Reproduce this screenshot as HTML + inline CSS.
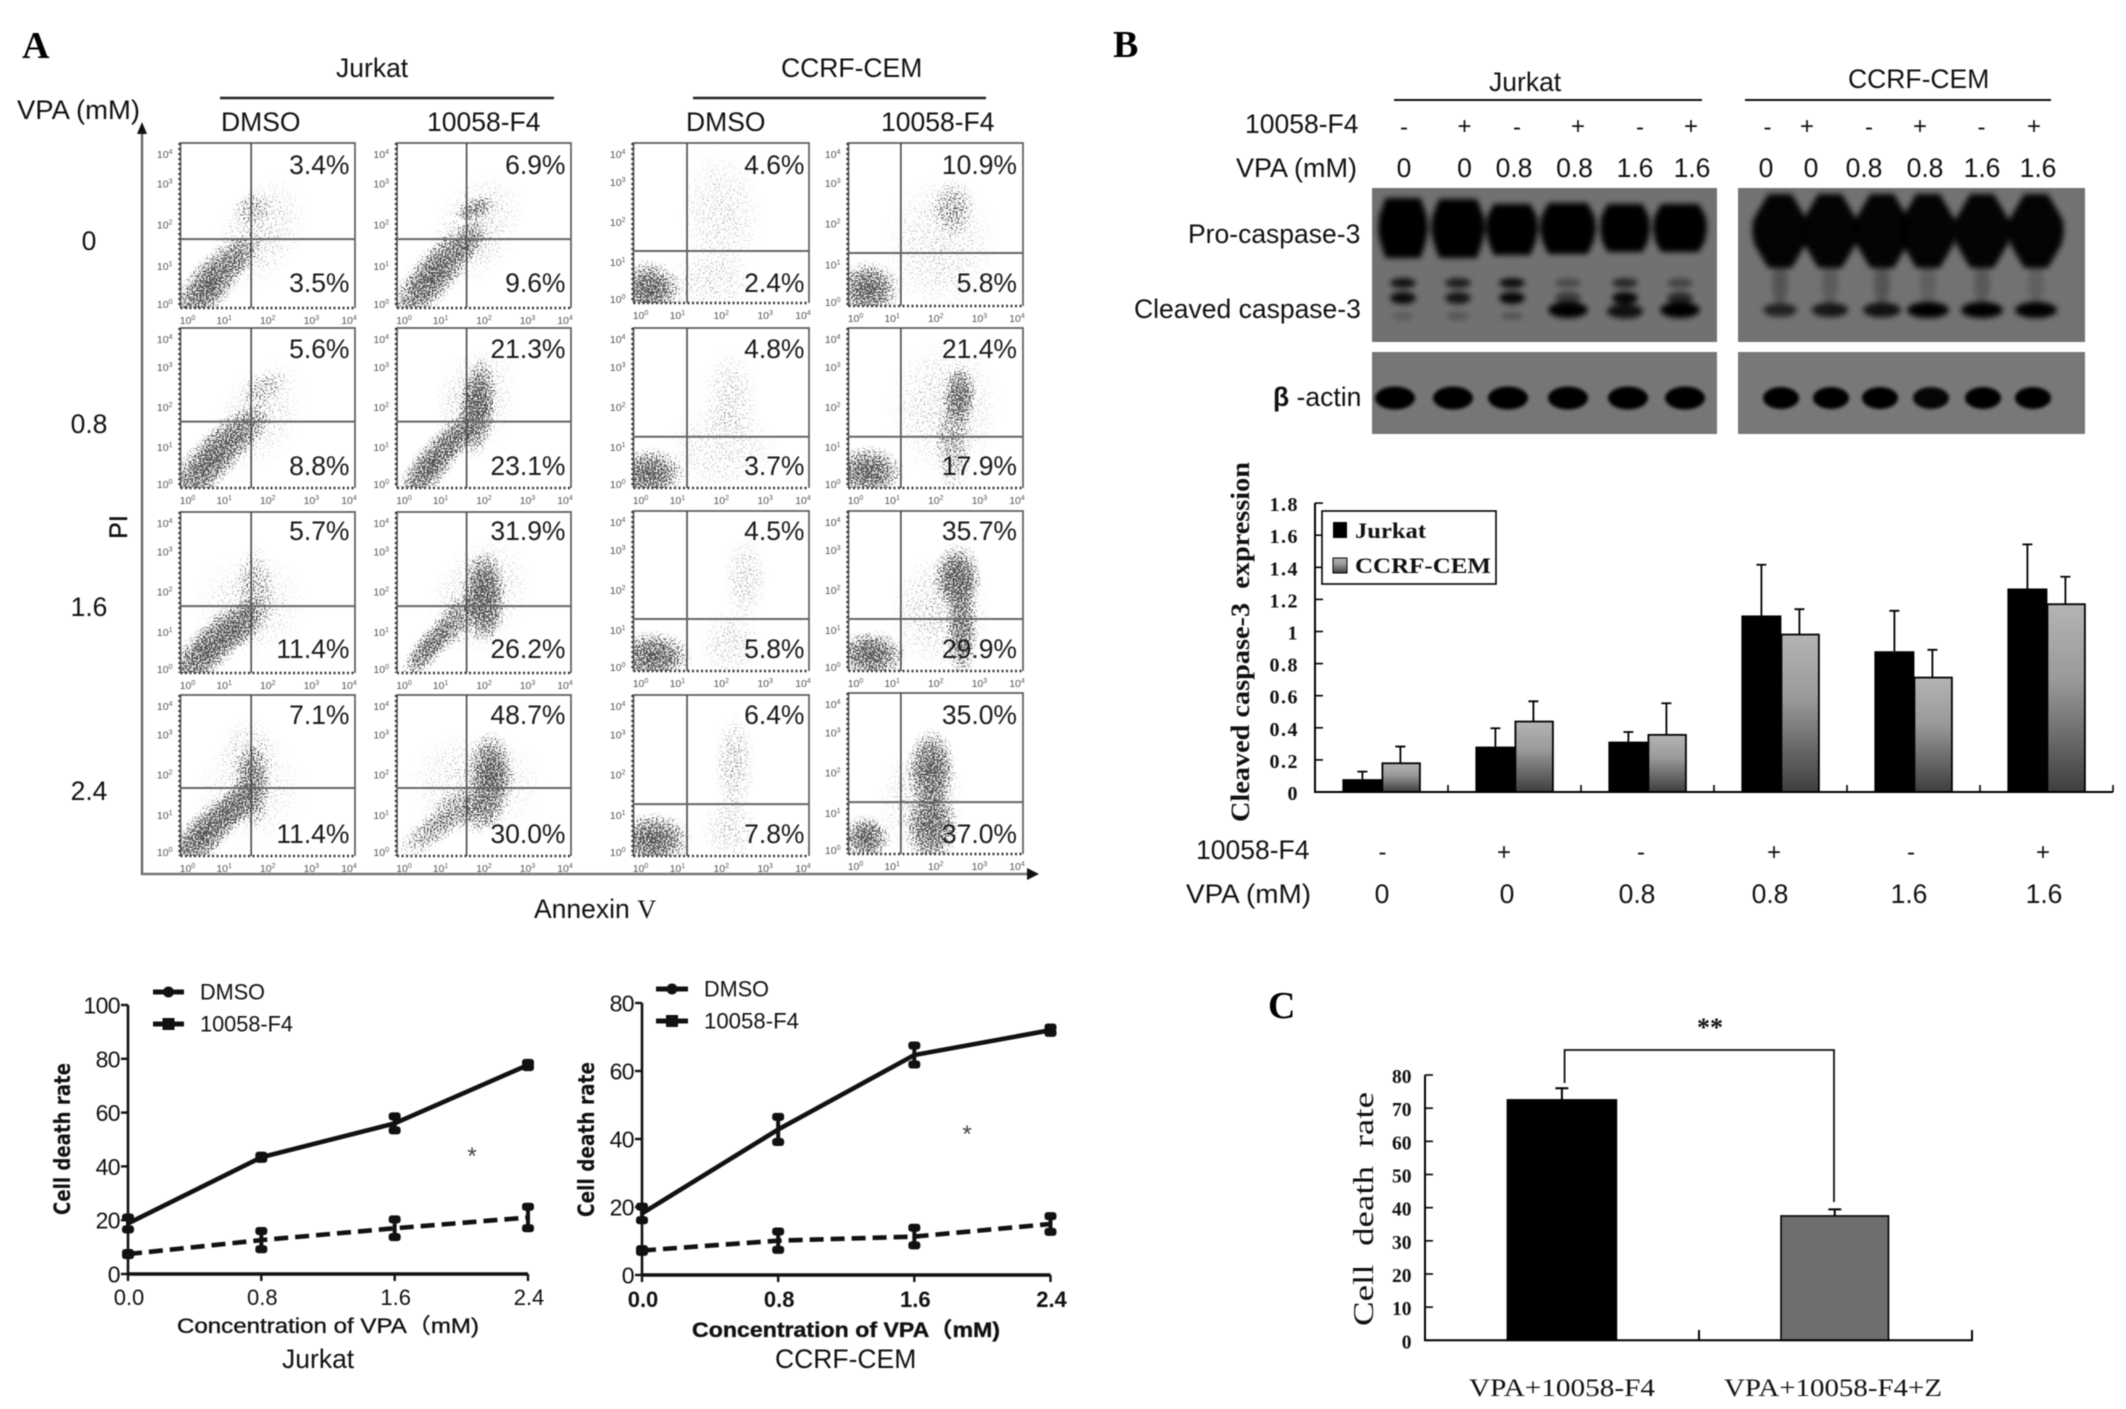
<!DOCTYPE html>
<html lang="en">
<head>
<meta charset="utf-8">
<title>Flow cytometry, western blot and cell death figure</title>
<style>
html,body{margin:0;padding:0;background:#fff;width:2126px;height:1409px;overflow:hidden}
svg{display:block;filter:blur(0.45px)}
text{fill:#111;font-family:"Liberation Sans","Noto Sans CJK SC",sans-serif}
.lab{font-size:26.5px}
.panel{font-family:"Liberation Serif",serif;font-weight:bold;font-size:38px;fill:#000}
.ser{font-family:"Liberation Serif","Noto Serif CJK SC",serif;font-weight:bold;fill:#111}
</style>
</head>
<body>
<svg id="figure" xmlns="http://www.w3.org/2000/svg" width="2126" height="1409" viewBox="0 0 2126 1409">
<defs>
<radialGradient id="cloud"><stop offset="0" stop-color="#000" stop-opacity="1"/><stop offset=".5" stop-color="#000" stop-opacity=".72"/><stop offset="1" stop-color="#000" stop-opacity="0"/></radialGradient>
<filter id="speckle" x="0" y="0" width="100%" height="100%" color-interpolation-filters="sRGB">
<feTurbulence type="fractalNoise" baseFrequency="0.62" numOctaves="2" seed="4" result="n"/>
<feColorMatrix in="n" type="matrix" values="0 0 0 0 0 0 0 0 0 0 0 0 0 0 0 0 0 0 3.2 -1.1" result="m"/>
<feComposite in="SourceGraphic" in2="m" operator="arithmetic" k1="0" k2="2.4" k3="2.4" k4="-2.4" result="dots"/>
<feColorMatrix in="dots" type="matrix" values="0 0 0 0 .1 0 0 0 0 .1 0 0 0 0 .1 0 0 0 .78 0"/>
</filter>
<filter id="blot" x="-10%" y="-10%" width="120%" height="120%"><feGaussianBlur stdDeviation="3"/></filter>
<filter id="actinBlot" x="-10%" y="-10%" width="120%" height="120%"><feGaussianBlur stdDeviation="1.7"/></filter>
<linearGradient id="grayBar" x1="0" y1="0" x2="0" y2="1"><stop offset="0" stop-color="#b4b4b4"/><stop offset=".4" stop-color="#9a9a9a"/><stop offset="1" stop-color="#3e3e3e"/></linearGradient>
<clipPath id="blotClipA"><rect x="1372" y="188" width="345" height="154"/></clipPath>
<clipPath id="blotClipB"><rect x="1738" y="188" width="347" height="154"/></clipPath>
</defs>

<text class="panel" x="22" y="58">A</text>
<text class="panel" x="1113" y="57">B</text>
<text class="panel" x="1268" y="1018">C</text>

<g>
<text class="lab" x="336" y="77">Jurkat</text>
<line x1="220" x2="554" y1="98" y2="98" stroke="#222" stroke-width="2.4"/>
<text class="lab" x="781" y="77">CCRF-CEM</text>
<line x1="693" x2="986" y1="98" y2="98" stroke="#222" stroke-width="2.4"/>
<text class="lab" x="17" y="119" textLength="123" lengthAdjust="spacingAndGlyphs">VPA (mM)</text>
<text class="lab" x="221" y="131">DMSO</text>
<text class="lab" x="427" y="131">10058-F4</text>
<text class="lab" x="686" y="131">DMSO</text>
<text class="lab" x="881" y="131">10058-F4</text>
<text class="lab" x="89" y="250" text-anchor="middle">0</text>
<text class="lab" x="89" y="433" text-anchor="middle">0.8</text>
<text class="lab" x="89" y="616" text-anchor="middle">1.6</text>
<text class="lab" x="89" y="800" text-anchor="middle">2.4</text>
<text transform="translate(127,527) rotate(-90)" text-anchor="middle" style="font-size:25px;stroke:#111;stroke-width:.4">PI</text>
<line x1="142" x2="142" y1="130" y2="875" stroke="#666" stroke-width="2.4"/>
<polygon points="142,122 137,134 147,134" fill="#111"/>
<line x1="142" x2="1028" y1="874" y2="874" stroke="#777" stroke-width="2.6"/>
<polygon points="1039,874 1027,868 1027,880" fill="#111"/>
<text class="lab" x="534" y="918">Annexin <tspan style="font-family:'Liberation Serif',serif">V</tspan></text>
</g>
<g id="flowLayer"></g>

<g id="blotLayer">
<text class="lab" x="1489" y="91">Jurkat</text>
<line x1="1394" x2="1702" y1="100" y2="100" stroke="#111" stroke-width="2"/>
<text class="lab" x="1848" y="88">CCRF-CEM</text>
<line x1="1745" x2="2051" y1="100" y2="100" stroke="#111" stroke-width="2"/>
<text class="lab" x="1245" y="133">10058-F4</text>
<text class="lab" x="1236" y="177" textLength="121" lengthAdjust="spacingAndGlyphs">VPA (mM)</text>
<text class="lab" x="1188" y="243">Pro-caspase-3</text>
<text class="lab" x="1134" y="318">Cleaved caspase-3</text>
<text class="lab" x="1273" y="406"><tspan font-weight="bold">β</tspan> -actin</text>
</g>

<g id="barLayer">
<text class="ser" transform="translate(1249,822) rotate(-90)" font-size="26" textLength="360" lengthAdjust="spacingAndGlyphs" xml:space="preserve">Cleaved caspase-3  expression</text>
<text class="lab" x="1196" y="859">10058-F4</text>
<text class="lab" x="1186" y="903" textLength="125" lengthAdjust="spacingAndGlyphs">VPA (mM)</text>
</g>
<g id="lineLayer"></g>
<g id="cLayer">
<text class="ser" transform="translate(1373,1326) rotate(-90)" font-size="29" style="font-weight:normal" textLength="234" lengthAdjust="spacingAndGlyphs" xml:space="preserve">Cell  death  rate</text>
<text class="ser" x="1710" y="1036" font-size="26" text-anchor="middle">**</text>
</g>

<script>
/* ---------- flow cytometry data (log decades, 0-4) ---------- */
const upperPercents = [
 ['3.4%','6.9%','4.6%','10.9%'],['5.6%','21.3%','4.8%','21.4%'],
 ['5.7%','31.9%','4.5%','35.7%'],['7.1%','48.7%','6.4%','35.0%']];
const lowerPercents = [
 ['3.5%','9.6%','2.4%','5.8%'],['8.8%','23.1%','3.7%','17.9%'],
 ['11.4%','26.2%','5.8%','29.9%'],['11.4%','30.0%','7.8%','37.0%']];
const gateXDecades = [1.62,1.6,1.22,1.2];
const gateYDecades = [[1.67,1.67,1.30,1.30],[1.66,1.66,1.28,1.28],[1.66,1.66,1.30,1.30],[1.69,1.69,1.29,1.29]];
/* each cloud: x, y, long radius, short radius, angle, density */
const flowClouds = [
 [ [[.65,.55,.92,.4,52,1],[1.4,1.3,.42,.26,55,.6],[1.65,2.4,.32,.3,0,.38],[1.8,1.8,1,.7,60,.24]],
   [[.8,.75,1.05,.4,50,1],[1.65,1.6,.42,.26,55,.65],[1.8,2.4,.33,.2,20,.7],[1.8,1.9,1,.7,60,.24]],
   [[.35,.33,.52,.52,0,1],[2,2.2,.65,1.15,0,.2],[1.7,.5,.8,.5,0,.2]],
   [[.45,.4,.52,.5,0,1],[2.4,2.4,.35,.5,0,.5],[2.1,1.5,.9,1.2,0,.2]] ],
 [ [[.7,.7,1.1,.42,48,1],[1.55,1.5,.5,.32,50,.5],[1.9,2.5,.42,.28,30,.36],[1.8,1.8,1,.7,60,.2]],
   [[.8,.6,.9,.34,52,1],[1.4,1.3,.45,.3,55,.65],[1.85,2,.8,.33,85,1],[1.8,2.2,.9,.7,70,.25]],
   [[.35,.35,.58,.46,0,1],[2.2,2.3,.45,.8,0,.24],[2,1,.9,.8,0,.18]],
   [[.45,.4,.58,.46,0,1],[2.55,2.3,.28,.55,0,.9],[2.4,1.1,.3,.9,0,.5],[2.2,2,.9,1.2,0,.22]] ],
 [ [[.65,.6,1,.4,45,1],[1.4,1.2,.5,.33,50,.75],[1.7,2,.33,.85,0,.38],[1.6,1.7,.9,.9,0,.2]],
   [[.7,.6,.62,.26,52,.9],[1.3,1.25,.6,.3,55,.7],[2,2.05,.35,.7,0,1],[2,1.4,.33,.48,0,.7],[1.9,1.9,1,.8,60,.25]],
   [[.45,.35,.62,.46,0,1],[2.55,2.3,.35,.75,0,.26],[2.2,.7,.5,.6,0,.22]],
   [[.5,.4,.58,.44,0,1],[2.5,2.35,.4,.6,0,1],[2.6,1.1,.26,1,0,.85],[2.1,1.5,.8,1,0,.26]] ],
 [ [[.55,.55,.92,.38,45,1],[1.25,1.25,.5,.3,48,.85],[1.65,1.75,.3,.75,0,.8],[1.6,2.6,.5,.6,0,.24],[1.6,1.6,.9,.9,0,.18]],
   [[.7,.55,.55,.28,35,.55],[1.3,1.1,.6,.35,40,.55],[2.15,2,.38,.78,0,1],[1.9,1.1,.38,.38,0,.65],[1.8,1.8,1.1,.9,0,.22]],
   [[.45,.4,.62,.48,0,1],[2.3,2.3,.33,.85,0,.34],[2.2,.7,.45,.6,0,.24]],
   [[.4,.4,.4,.4,0,1],[1.9,2.1,.4,.72,0,1],[1.9,.7,.42,.72,0,.95],[1.7,1.3,.7,1,0,.26]] ]
];
const flowDecades = ['0','1','2','3','4'];

/* ---------- western blot band densities ---------- */
const jurkatProBand = [1,1,1,1,1,1];
const ccrfProBand = [.97,.97,.97,.97,.97,.97];
const jurkatCleavedUpper = [.85,.75,.9,.35,.65,.4];
const jurkatCleavedMiddle = [.9,.8,.95,.5,.95,.65];
const jurkatCleavedLower = [.2,.25,.25,1,.85,1];
const ccrfCleavedSmear = [.26,.2,.26,.16,.22,.16];
const ccrfCleavedLower = [.7,.8,.85,1,1,1];
const jurkatActin = [1,1,1,1,1,1];
const ccrfActin = [1,1,1,.95,1,1];
const blotSignsF4 = ['-','+','-','+','-','+'];
const blotVpa = ['0','0','0.8','0.8','1.6','1.6'];

/* ---------- cleaved caspase bar chart ---------- */
const caspaseTicks = ['0','0.2','0.4','0.6','0.8','1','1.2','1.4','1.6','1.8'];
const caspaseTickValues = [0,.2,.4,.6,.8,1,1.2,1.4,1.6,1.8];
const caspaseJurkat = [.08,.283,.314,1.10,.877,1.268];
const caspaseJurkatErr = [.047,.114,.06,.316,.252,.275];
const caspaseCcrf = [.179,.439,.356,.981,.713,1.17];
const caspaseCcrfErr = [.104,.126,.197,.158,.173,.171];
const caspaseF4 = ['-','+','-','+','-','+'];
const caspaseVpa = ['0','0','0.8','0.8','1.6','1.6'];

/* ---------- cell death line charts ---------- */
const doseLabels = ['0.0','0.8','1.6','2.4'];
const doses = [0,.8,1.6,2.4];
const jurkatTicks = [0,20,40,60,80,100];
const ccrfTicks = [0,20,40,60,80];
const jurkatDmso = [7.4,12.6,17,21];
const jurkatDmsoErr = [.4,3.4,3.3,4];
const jurkatF4 = [18.8,43.4,56,77.7];
const jurkatF4Err = [2.2,.6,2.6,.8];
const ccrfDmso = [7.2,10.1,11.3,15];
const ccrfDmsoErr = [.4,2.7,2.6,2.3];
const ccrfF4 = [18.1,42.8,64.7,72];
const ccrfF4Err = [2,3.7,2.8,.8];

/* ---------- panel C ---------- */
const deathTicks = [0,10,20,30,40,50,60,70,80];
const deathGroups = ['VPA+10058-F4','VPA+10058-F4+Z'];
const deathValues = [72.5,37.5];
const deathErrors = [3.5,2];

const NS = 'http://www.w3.org/2000/svg';
function make(tag, attrs, parent, text) {
  const e = document.createElementNS(NS, tag);
  for (const k in attrs) e.setAttribute(k, attrs[k]);
  if (text !== undefined) e.textContent = text;
  parent.appendChild(e);
  return e;
}

/* ---------- draw flow panels ---------- */
const colLeft = [180.5,397,633.5,848.5];
const colRight = [355,571,809,1023];
const rowTop = [[143,143,143,143],[328,328,328,328],[512,512,511,511],[695,695,695,693]];
const rowBottom = [[308,308,303,306],[488,488,488,488],[673,673,671,671],[856,856,856,854]];
const pctRight = [349.5,565.5,804.5,1017];
const upperBase = [174,358,540,724];
const lowerBase = [292,475,658,843];
const flowLayer = document.getElementById('flowLayer');
function drawFlowPanel(r, c) {
  const L = colLeft[c], R = colRight[c], T = rowTop[r][c], B = rowBottom[r][c];
  const fx = d => L + d / 4 * (R - L);
  const fy = d => B - d / 4 * (B - T);
  const g = make('g', {}, flowLayer);
  
  
  const clipId = 'flowClip' + r + c;
  const cp = make('clipPath', {id: clipId}, g);
  make('rect', {x: L, y: T, width: R - L, height: B - T}, cp);
  const holder = make('g', {'clip-path': 'url(#' + clipId + ')'}, g);
  const dots = make('g', {filter: 'url(#speckle)'}, holder);
  
  
  flowClouds[r][c].forEach(function (cl) {
    const sx = (R - L) / 4, sy = (B - T) / 4;
    const cloud = make('ellipse', {cx: fx(cl[0]), cy: fy(cl[1]), rx: cl[2] * sx * 1.5, ry: cl[3] * sy * 1.5,
      transform: 'rotate(' + (-cl[4]) + ' ' + fx(cl[0]) + ' ' + fy(cl[1]) + ')', fill: 'url(#cloud)', opacity: cl[5]}, dots);
    
    
  });
  const frame = make('path', {d: 'M' + L + ' ' + B + 'V' + T + 'H' + R + 'V' + B, fill: 'none', stroke: '#5c5c5c', 'stroke-width': 1.7}, g);
  
  
  const base = make('line', {x1: L, x2: R, y1: B, y2: B, stroke: '#333', 'stroke-width': 2.4, 'stroke-dasharray': '2 2.5'}, g);
  
  
  const leftAxis = make('line', {x1: L - 1, x2: L - 1, y1: T, y2: B, stroke: '#333', 'stroke-width': 2.4, 'stroke-dasharray': '2 3'}, g);
  
  
  const gv = make('line', {x1: fx(gateXDecades[c]), x2: fx(gateXDecades[c]), y1: T, y2: B, stroke: '#484848', 'stroke-width': 1.6}, g);
  
  
  const gh = make('line', {x1: L, x2: R, y1: fy(gateYDecades[r][c]), y2: fy(gateYDecades[r][c]), stroke: '#666', 'stroke-width': 2}, g);
  
  
  flowDecades.forEach(function (d, i) {
    const px = fx(i) + (i === 0 ? 7 : i === 4 ? -6 : 0);
    const py = fy(i) + (i === 4 ? 12 : i === 0 ? -3 : 0);
    const tx = make('text', {x: px, y: B + 16, 'text-anchor': 'middle', style: 'font-size:10.5px;fill:#555'}, g, '10');
    
    
    make('tspan', {dy: -4, style: 'font-size:7px'}, tx, d);
    const ty = make('text', {x: L - 8, y: py + 3, 'text-anchor': 'end', style: 'font-size:10.5px;fill:#555'}, g, '10');
    
    
    make('tspan', {dy: -4, style: 'font-size:7px'}, ty, d);
  });
  const up = make('text', {class: 'lab', x: pctRight[c], y: upperBase[r], 'text-anchor': 'end', style: 'fill:#1a1a1a'}, g, upperPercents[r][c]);
  
  
  const lo = make('text', {class: 'lab', x: pctRight[c], y: lowerBase[r], 'text-anchor': 'end', style: 'fill:#1a1a1a'}, g, lowerPercents[r][c]);
  
  
}
for (let r = 0; r < 4; r++) for (let c = 0; c < 4; c++) drawFlowPanel(r, c);

/* ---------- draw blots ---------- */
const blotLayer = document.getElementById('blotLayer');
const signXLeft = [1404,1464.5,1517,1578,1640,1691];
const signXRight = [1767.5,1807,1869,1920,1981.5,2034];
const valXLeft = [1404,1464.5,1514,1574.5,1635,1692];
const valXRight = [1766,1811,1864,1925,1982,2038];
blotSignsF4.forEach(function (s, i) {
  [signXLeft, signXRight].forEach(function (xs) {
    const t = make('text', {class: 'lab', x: xs[i], y: s === '+' ? 134 : 135, 'text-anchor': 'middle', style: 'font-size:24px'}, blotLayer, s);
    
    
  });
});
blotVpa.forEach(function (s, i) {
  [valXLeft, valXRight].forEach(function (xs) {
    const t = make('text', {class: 'lab', x: xs[i], y: 177, 'text-anchor': 'middle'}, blotLayer, s);
    
    
  });
});
function membrane(x, y, w, h, fill, name) {
  const m = make('rect', {x: x, y: y, width: w, height: h, fill: fill}, blotLayer);
  
  
}
membrane(1372, 188, 345, 154, '#717171', 'jurkat-caspase-membrane');
membrane(1738, 188, 347, 154, '#727272', 'ccrf-caspase-membrane');
membrane(1372, 352, 345, 82, '#767676', 'jurkat-actin-membrane');
membrane(1738, 352, 347, 82, '#787878', 'ccrf-actin-membrane');
const laneCaspaseLeft = [1403,1458,1512,1568,1625,1680];
const laneCaspaseRight = [1780,1830,1882,1928,1982,2036];
const laneActinLeft = [1395,1453,1508,1568,1628,1685];
const laneActinRight = [1781,1831,1880,1931,1983,2033];
const laneHalfWidthLeft = [25,27,26,28,25,27];
const laneTopLeft = [198,199,204,203,204,204];
const laneBottomLeft = [258,258,255,254,252,252];
function bandHex(parent, cx, top, mid, bot, hw, ratio, o, name) {
  const p = make('polygon', {points: [[cx - hw * ratio, top],[cx + hw * ratio, top],[cx + hw * .96, mid - 12],[cx + hw, mid],[cx + hw * .92, mid + 12],[cx + hw * ratio, bot],[cx - hw * ratio, bot],[cx - hw * .92, mid + 12],[cx - hw, mid],[cx - hw * .96, mid - 12]].map(a => a.join(',')).join(' '), fill: '#050505', opacity: o}, parent);
  
  
}
function bandOval(parent, cx, cy, rx, ry, o, name) {
  const p = make('ellipse', {cx: cx, cy: cy, rx: rx, ry: ry, fill: '#050505', opacity: o}, parent);
  
  
}
const blotLeft = make('g', {filter: 'url(#blot)', 'clip-path': 'url(#blotClipA)'}, blotLayer);


const blotRight = make('g', {filter: 'url(#blot)', 'clip-path': 'url(#blotClipB)'}, blotLayer);


const actinBlur = make('g', {filter: 'url(#actinBlot)'}, blotLayer);


laneCaspaseLeft.forEach(function (x, i) {
  bandHex(blotLeft, x, laneTopLeft[i], 229, laneBottomLeft[i], laneHalfWidthLeft[i], .7, jurkatProBand[i], 'jurkat-pro-caspase-band');
  bandOval(blotLeft, x, 283, 13, 5, jurkatCleavedUpper[i], 'jurkat-cleaved-upper-band');
  bandOval(blotLeft, x, 298, 13, 6, jurkatCleavedMiddle[i], 'jurkat-cleaved-middle-band');
  const low = jurkatCleavedLower[i];
  bandOval(blotLeft, x, 318 - low * 8, 8 + low * 12, 3 + low * 5, low, 'jurkat-cleaved-lower-band');
});
laneCaspaseRight.forEach(function (x, i) {
  bandHex(blotRight, x, 194, 232, 268, 28, .42, ccrfProBand[i], 'ccrf-pro-caspase-band');
  bandOval(blotRight, x, 284, 8, 20, ccrfCleavedSmear[i], 'ccrf-cleaved-smear');
  const low = ccrfCleavedLower[i];
  bandOval(blotRight, x, 310, 7 + low * 14, 4 + low * 4, low, 'ccrf-cleaved-lower-band');
});
laneActinLeft.forEach(function (x, i) {
  bandOval(actinBlur, x, 398, 20, 11.5, jurkatActin[i], 'jurkat-actin-band');
});
laneActinRight.forEach(function (x, i) {
  bandOval(actinBlur, x, 398, 18, 11, ccrfActin[i], 'ccrf-actin-band');
});

/* ---------- draw caspase bars ---------- */
const barLayer = document.getElementById('barLayer');
const barY = v => 792 - v * 160.5;
const barGroupX = i => 1342.4 + 133 * i;
caspaseTicks.forEach(function (lab, i) {
  const y = barY(caspaseTickValues[i]);
  const tk = make('line', {x1: 1315, x2: 1323, y1: y, y2: y, stroke: '#000', 'stroke-width': 1.6}, barLayer);
  
  
  const t = make('text', {class: 'ser', x: 1299, y: y + 8, 'text-anchor': 'end', 'font-size': 20, 'letter-spacing': '1.5'}, barLayer, lab);
  
  
});
caspaseJurkat.forEach(function (v, i) {
  const x0 = barGroupX(i);
  const g = make('g', {}, barLayer);
  
  
  const e1 = make('path', {d: 'M' + (x0 + 20) + ' ' + barY(v) + 'V' + barY(v + caspaseJurkatErr[i]) + 'm-5 0h10', stroke: '#000', 'stroke-width': 1.8, fill: 'none'}, g);
  
  
  const g2 = caspaseCcrf[i];
  const e2 = make('path', {d: 'M' + (x0 + 58) + ' ' + barY(g2) + 'V' + barY(g2 + caspaseCcrfErr[i]) + 'm-5 0h10', stroke: '#000', 'stroke-width': 1.8, fill: 'none'}, g);
  
  
  const b2 = make('rect', {x: x0 + 40, y: barY(g2), width: 37.5, height: 792 - barY(g2), fill: 'url(#grayBar)', stroke: '#000', 'stroke-width': 1.8}, g);
  
  
  const b1 = make('rect', {x: x0, y: barY(v), width: 40, height: 792 - barY(v), fill: '#000'}, g);
  
  
  const tk = make('line', {x1: 1315 + 133 * (i + 1), x2: 1315 + 133 * (i + 1), y1: 785, y2: 792, stroke: '#000', 'stroke-width': 1.6}, barLayer);
  
  
});
const barAxis = make('path', {d: 'M1315 503V792H2113', fill: 'none', stroke: '#000', 'stroke-width': 2}, barLayer);


const legendBox = make('rect', {x: 1322, y: 511, width: 174, height: 73, fill: '#fff', stroke: '#000', 'stroke-width': 1.6}, barLayer);


const sw1 = make('rect', {x: 1333, y: 522, width: 14, height: 16, fill: '#000'}, barLayer);


const sw2 = make('rect', {x: 1333, y: 558, width: 14, height: 15, fill: 'url(#grayBar)', stroke: '#000', 'stroke-width': 1}, barLayer);


const lg1 = make('text', {class: 'ser', x: 1355, y: 538, 'font-size': 22, textLength: 71, lengthAdjust: 'spacingAndGlyphs'}, barLayer, 'Jurkat');


const lg2 = make('text', {class: 'ser', x: 1355, y: 573, 'font-size': 22, textLength: 136, lengthAdjust: 'spacingAndGlyphs'}, barLayer, 'CCRF-CEM');


const barSignX = [1382.5,1504,1641,1774,1911,2043];
const barValX = [1382,1507,1637,1770,1909,2044];
caspaseF4.forEach(function (s, i) {
  const t = make('text', {class: 'lab', x: barSignX[i], y: 860, 'text-anchor': 'middle', style: 'font-size:24px'}, barLayer, s);
  
  
});
caspaseVpa.forEach(function (s, i) {
  const t = make('text', {class: 'lab', x: barValX[i], y: 903, 'text-anchor': 'middle'}, barLayer, s);
  
  
});

/* ---------- draw line charts ---------- */
const lineLayer = document.getElementById('lineLayer');
function drawLineChart(o, ticks, dmso, dmsoErr, f4, f4Err) {
  const g = make('g', {}, lineLayer);
  
  
  const X = v => o.x0 + v / 2.4 * (o.x1 - o.x0);
  const Y = v => o.y0 - v * o.k;
  const axes = make('path', {d: 'M' + o.x0 + ' ' + Y(ticks[ticks.length - 1]) + 'V' + o.y0, fill: 'none', stroke: '#111', 'stroke-width': 2.6}, g);
  
  
  const ax2 = make('line', {x1: o.x0, x2: o.x1, y1: o.y0, y2: o.y0, stroke: '#111', 'stroke-width': 3.4}, g);
  
  
  ticks.forEach(function (v) {
    const tk = make('line', {x1: o.x0 - 7, x2: o.x0, y1: Y(v), y2: Y(v), stroke: '#111', 'stroke-width': 2.4}, g);
    
    
    const t = make('text', {x: o.x0 - 8, y: Y(v) + 8.5, 'text-anchor': 'end', style: 'font-size:23px', 'letter-spacing': '-.6'}, g, String(v));
    
    
  });
  doses.forEach(function (d, i) {
    const tk = make('line', {x1: X(d), x2: X(d), y1: o.y0, y2: o.y0 + 7, stroke: '#111', 'stroke-width': 2.4}, g);
    
    
    const t = make('text', {x: X(d) + 1, y: o.labY, 'text-anchor': 'middle', style: 'font-size:22px;font-weight:' + o.weight}, g, doseLabels[i]);
    
    
  });
  function series(vals, errs, dash, name) {
    const pts = doses.map((d, i) => X(d) + ',' + Y(vals[i])).join(' ');
    const l = make('polyline', {points: pts, fill: 'none', stroke: '#111', 'stroke-width': 4.6}, g);
    if (dash) l.setAttribute('stroke-dasharray', '14 7');
    
    
    doses.forEach(function (d, i) {
      const e = make('path', {d: 'M' + X(d) + ' ' + Y(vals[i] - errs[i]) + 'V' + Y(vals[i] + errs[i]), stroke: '#111', 'stroke-width': 4, fill: 'none'}, g);
      
      
      const c1 = make('rect', {x: X(d) - 6, y: Y(vals[i] + errs[i]) - 4, width: 12, height: 8, rx: 3, fill: '#111'}, g);
      
      
      const c2 = make('rect', {x: X(d) - 6, y: Y(vals[i] - errs[i]) - 4, width: 12, height: 8, rx: 3, fill: '#111'}, g);
      
      
    });
  }
  series(dmso, dmsoErr, true, 'dmso');
  series(f4, f4Err, false, 'f4');
  function legend(y, tx, label, round) {
    const ln = make('line', {x1: o.legX0, x2: o.legX1, y1: y, y2: y, stroke: '#111', 'stroke-width': 5}, g);
    
    
    const mid = (o.legX0 + o.legX1) / 2;
    const mk = round ? make('circle', {cx: mid, cy: y, r: 5.5, fill: '#111'}, g) : make('rect', {x: mid - 6, y: y - 6, width: 12, height: 12, fill: '#111'}, g);
    
    
    const t = make('text', {x: tx, y: y + 7.5, style: 'font-size:22.5px', textLength: label === 'DMSO' ? 65 : o.legF4W, lengthAdjust: 'spacingAndGlyphs'}, g, label);
    
    
  }
  legend(o.legY1, o.legTx, 'DMSO', true);
  legend(o.legY2, o.legTx, '10058-F4', false);
  const st = make('text', {x: o.starX, y: o.starY + 10, 'text-anchor': 'middle', style: 'font-size:24px;fill:#444'}, g, '*');
  
  
  const yt = make('text', {transform: 'translate(' + o.yTitleX + ',' + o.yTitleB + ') rotate(-90)', style: 'font-size:22px;font-weight:bold;font-family:\'DejaVu Sans\',sans-serif', textLength: o.yTitleL, lengthAdjust: 'spacingAndGlyphs'}, g, 'Cell death rate');
  
  
  const xt = make('text', {x: o.xtX, y: o.xtY, style: 'font-size:21px;stroke:#111;stroke-width:.35;font-weight:' + o.weight, textLength: o.xtL, lengthAdjust: 'spacingAndGlyphs'}, g, 'Concentration of VPA（mM)');
  
  
  const nm = make('text', {class: 'lab', x: o.nameX, y: 1368}, g, o.title);
  
  
}
drawLineChart({name: 'jurkat-line-chart', title: 'Jurkat', x0: 128, x1: 528, y0: 1274, k: 2.69, labY: 1305, weight: 'normal', legX0: 153, legX1: 184, legTx: 200, legY1: 992, legY2: 1024, legF4W: 93, starX: 472, starY: 1154, yTitleX: 70, yTitleB: 1215, yTitleL: 152, xtX: 177, xtY: 1333, xtL: 302, nameX: 282}, jurkatTicks, jurkatDmso, jurkatDmsoErr, jurkatF4, jurkatF4Err);
drawLineChart({name: 'ccrf-line-chart', title: 'CCRF-CEM', x0: 642, x1: 1050.5, y0: 1275, k: 3.40, labY: 1307, weight: 'bold', legX0: 656, legX1: 688, legTx: 704, legY1: 989, legY2: 1021, legF4W: 95, starX: 967, starY: 1132, yTitleX: 594, yTitleB: 1217, yTitleL: 155, xtX: 692, xtY: 1337, xtL: 308, nameX: 775}, ccrfTicks, ccrfDmso, ccrfDmsoErr, ccrfF4, ccrfF4Err);

/* ---------- draw panel C ---------- */
const cLayer = document.getElementById('cLayer');
const cY = v => 1340.3 - v * 3.316;
const cBarLeft = [1507.4,1781];
const cBarWidth = [109,107.5];
const cBarFill = ['#000','#6e6e6e'];
const cBarLabelX = [1469,1724];
const cBarLabelW = [186,218];
deathTicks.forEach(function (v) {
  const tk = make('line', {x1: 1425, x2: 1433, y1: cY(v), y2: cY(v), stroke: '#000', 'stroke-width': 1.6}, cLayer);
  
  
  const t = make('text', {class: 'ser', x: 1411.5, y: cY(v) + 8, 'text-anchor': 'end', 'font-size': 19.5}, cLayer, String(v));
  
  
});
deathValues.forEach(function (v, i) {
  const cx = cBarLeft[i] + cBarWidth[i] / 2;
  const err = make('path', {d: 'M' + cx + ' ' + cY(v) + 'V' + cY(v + deathErrors[i]) + 'm-6.5 0h13', stroke: '#000', 'stroke-width': 2, fill: 'none'}, cLayer);
  
  
  const b = make('rect', {x: cBarLeft[i], y: cY(v), width: cBarWidth[i], height: 1340.3 - cY(v), fill: cBarFill[i], stroke: '#000', 'stroke-width': 1.6}, cLayer);
  
  
  const t = make('text', {class: 'ser', x: cBarLabelX[i], y: 1396, 'font-size': 25, style: 'font-weight:normal', textLength: cBarLabelW[i], lengthAdjust: 'spacingAndGlyphs'}, cLayer, deathGroups[i]);
  
  
});
const cAxes = make('path', {d: 'M1425 1075V1340.3H1972V1330M1699 1340.3V1330', fill: 'none', stroke: '#000', 'stroke-width': 2}, cLayer);


const bracket = make('path', {d: 'M1564.6 1083V1050H1834V1202', fill: 'none', stroke: '#111', 'stroke-width': 1.8}, cLayer);


</script>
</svg>
</body>
</html>
